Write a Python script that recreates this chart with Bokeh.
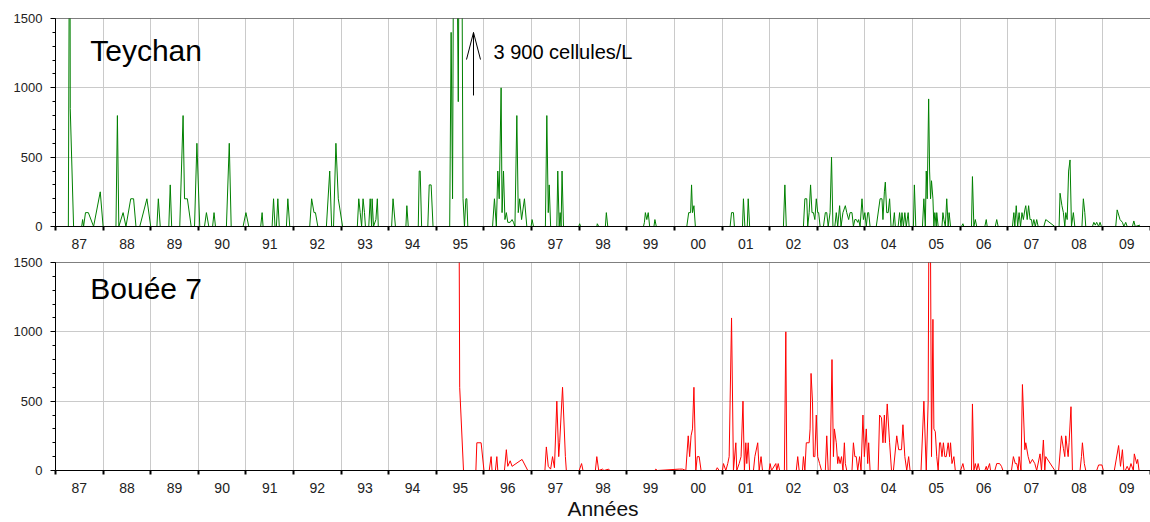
from bokeh.plotting import figure
from bokeh.layouts import column
from bokeh.models import FixedTicker, Span, Label, Range1d, ColumnDataSource
from bokeh.embed import file_html
from bokeh.resources import INLINE

# ---------------- data ----------------
year_starts = list(range(1987, 2011))
year_labels = ["87", "88", "89", "90", "91", "92", "93", "94", "95", "96", "97", "98",
               "99", "00", "01", "02", "03", "04", "05", "06", "07", "08", "09"]
y_major = [0, 500, 1000, 1500]
y_minor = list(range(0, 1501, 100))

teychan_year = [
    1987.00, 1987.27, 1987.30, 1987.31, 1987.38, 1987.55, 1987.57, 1987.59, 1987.63, 1987.69, 1987.80, 1987.94,
    1988.00, 1988.27, 1988.30, 1988.33, 1988.42, 1988.48, 1988.58, 1988.64, 1988.69, 1988.77, 1988.92,
    1989.00, 1989.13, 1989.16, 1989.20, 1989.38, 1989.41, 1989.44, 1989.61, 1989.68, 1989.71, 1989.77, 1989.85, 1989.92, 1989.97,
    1990.03, 1990.13, 1990.17, 1990.22, 1990.30, 1990.33, 1990.36, 1990.59, 1990.65, 1990.69, 1990.94,
    1991.00, 1991.06, 1991.31, 1991.34, 1991.36, 1991.55, 1991.58, 1991.61, 1991.64, 1991.67, 1991.70, 1991.85, 1991.88, 1991.92,
    1992.34, 1992.38, 1992.43, 1992.46, 1992.51, 1992.69, 1992.76, 1992.80, 1992.84, 1992.89, 1992.94,
    1993.03, 1993.34, 1993.37, 1993.40, 1993.43, 1993.46, 1993.49, 1993.51, 1993.58, 1993.61, 1993.64, 1993.65, 1993.68, 1993.73, 1993.76, 1993.78,
    1994.06, 1994.09, 1994.14, 1994.36, 1994.38, 1994.41, 1994.62, 1994.64, 1994.66, 1994.69, 1994.82, 1994.85, 1994.89, 1994.93,
    1995.28, 1995.31, 1995.34, 1995.38, 1995.41, 1995.46, 1995.49, 1995.53, 1995.56, 1995.59, 1995.62, 1995.64, 1995.66,
    1996.18, 1996.22, 1996.26, 1996.29, 1996.32, 1996.36, 1996.38, 1996.41, 1996.44, 1996.47, 1996.50, 1996.55, 1996.59, 1996.62,
    1996.65, 1996.69, 1996.72, 1996.75, 1996.79, 1996.85, 1996.90, 1996.99,
    1997.01, 1997.04, 1997.29, 1997.32, 1997.35, 1997.37, 1997.40, 1997.53, 1997.55, 1997.58, 1997.60, 1997.62, 1997.64, 1997.67, 1997.99,
    1998.01, 1998.03, 1998.37, 1998.38, 1998.41, 1998.55, 1998.57, 1998.60,
    1999.35, 1999.37, 1999.39, 1999.42, 1999.45, 1999.48, 1999.57, 1999.59, 1999.62,
    2000.26, 2000.30, 2000.34, 2000.36, 2000.38, 2000.41, 2000.44,
    2001.17, 2001.20, 2001.24, 2001.26, 2001.43, 2001.45, 2001.48, 2001.53, 2001.55, 2001.58,
    2002.29, 2002.32, 2002.35, 2002.71, 2002.74, 2002.78, 2002.80, 2002.83, 2002.86, 2002.89, 2002.92, 2002.95, 2002.98,
    2003.01, 2003.03, 2003.06, 2003.13, 2003.17, 2003.20, 2003.23, 2003.27, 2003.30, 2003.33, 2003.37, 2003.40, 2003.43, 2003.47,
    2003.50, 2003.54, 2003.59, 2003.62, 2003.66, 2003.69, 2003.73, 2003.76, 2003.79, 2003.82, 2003.85, 2003.87, 2003.90, 2003.94, 2003.97,
    2004.00, 2004.03, 2004.06, 2004.08, 2004.11, 2004.24, 2004.32, 2004.36, 2004.38, 2004.41, 2004.43, 2004.46, 2004.49, 2004.52,
    2004.55, 2004.59, 2004.62, 2004.64, 2004.70, 2004.73, 2004.76, 2004.78, 2004.81, 2004.84, 2004.87, 2004.91, 2004.93,
    2005.02, 2005.04, 2005.07, 2005.21, 2005.24, 2005.27, 2005.29, 2005.31, 2005.34, 2005.36, 2005.38, 2005.40, 2005.43, 2005.45,
    2005.47, 2005.50, 2005.51, 2005.54, 2005.62, 2005.64, 2005.66, 2005.69, 2005.72, 2005.75, 2005.77, 2005.80,
    2006.03, 2006.06, 2006.08, 2006.24, 2006.26, 2006.29, 2006.32, 2006.35, 2006.52, 2006.55, 2006.57, 2006.74, 2006.77, 2006.80,
    2007.10, 2007.13, 2007.15, 2007.18, 2007.21, 2007.24, 2007.27, 2007.30, 2007.33, 2007.36, 2007.38, 2007.41, 2007.44, 2007.47,
    2007.50, 2007.52, 2007.55, 2007.58, 2007.61, 2007.64, 2007.76, 2007.80, 2007.99,
    2008.08, 2008.10, 2008.14, 2008.17, 2008.20, 2008.22, 2008.25, 2008.28, 2008.31, 2008.34, 2008.38, 2008.41, 2008.56, 2008.59,
    2008.62, 2008.64, 2008.78, 2008.81, 2008.84, 2008.87, 2008.91, 2008.94, 2008.97,
    2009.27, 2009.30, 2009.36, 2009.41, 2009.44, 2009.48, 2009.51, 2009.62, 2009.65, 2009.68, 2009.78,
]
teychan_val = [
    0, 0, 3000, 850, 0, 0, 50, 0, 100, 100, 0, 250,
    0, 0, 800, 0, 100, 0, 200, 200, 0, 0, 200,
    0, 0, 200, 0, 0, 300, 0, 0, 800, 200, 200, 0, 0, 600,
    0, 0, 100, 0, 0, 100, 0, 0, 600, 0, 0,
    100, 0, 0, 100, 0, 0, 200, 0, 0, 200, 0, 0, 200, 0,
    0, 200, 100, 100, 0, 0, 400, 0, 0, 600, 200,
    0, 0, 200, 100, 0, 200, 100, 0, 0, 200, 0, 200, 0, 50, 200, 0,
    0, 200, 0, 0, 150, 0, 0, 400, 400, 0, 0, 300, 300, 0,
    0, 1400, 200, 3900, 3000, 900, 3000, 2500, 200, 0, 200, 200, 0,
    0, 200, 0, 400, 200, 1000, 100, 400, 50, 100, 30, 30, 50, 30,
    0, 800, 100, 200, 50, 200, 0, 0,
    50, 0, 0, 800, 100, 300, 0, 0, 400, 0, 100, 0, 400, 0, 0,
    20, 0, 0, 20, 0, 0, 100, 0,
    0, 30, 100, 50, 100, 0, 0, 50, 0,
    0, 100, 100, 300, 100, 150, 0,
    0, 100, 100, 0, 0, 200, 0, 0, 200, 0,
    0, 300, 0, 0, 200, 200, 0, 100, 300, 100, 100, 50, 200,
    100, 100, 0, 0, 100, 100, 0, 100, 500, 0, 0, 100, 0, 150,
    0, 100, 150, 100, 50, 100, 100, 0, 50, 50, 30, 50, 0, 200, 50,
    100, 0, 100, 100, 0, 0, 200, 200, 50, 250, 320, 100, 100, 200,
    0, 0, 100, 0, 0, 100, 0, 100, 0, 100, 0, 100, 0,
    0, 300, 0, 0, 200, 0, 400, 200, 920, 400, 200, 330, 200, 0,
    100, 0, 100, 0, 0, 100, 50, 0, 200, 0, 100, 0,
    0, 20, 0, 0, 360, 0, 50, 0, 0, 50, 0, 0, 50, 0,
    0, 100, 0, 150, 0, 100, 0, 100, 50, 120, 150, 50, 150, 50,
    50, 0, 50, 0, 50, 0, 0, 50, 0,
    0, 240, 150, 100, 0, 100, 50, 400, 480, 0, 100, 0, 0, 200,
    100, 0, 0, 30, 10, 30, 0, 30, 0,
    0, 120, 50, 30, 0, 30, 0, 0, 40, 0, 10,
]

bouee_year = [
    1995.47, 1995.49, 1995.57, 1995.83, 1995.85, 1995.94,
    1996.00, 1996.11, 1996.15, 1996.17, 1996.24, 1996.27, 1996.29, 1996.43, 1996.47, 1996.50, 1996.55, 1996.59, 1996.80, 1996.92,
    1997.28, 1997.31, 1997.35, 1997.40, 1997.44, 1997.48, 1997.53, 1997.57, 1997.59, 1997.65, 1997.71, 1997.73,
    1998.00, 1998.05, 1998.08, 1998.34, 1998.37, 1998.41, 1998.49, 1998.52, 1998.62, 1998.64,
    1999.58, 1999.61, 1999.64,
    2000.10, 2000.17, 2000.24, 2000.29, 2000.32, 2000.35, 2000.38, 2000.41, 2000.45, 2000.48, 2000.52, 2000.56, 2000.87, 2000.90, 2000.94,
    2001.01, 2001.03, 2001.08, 2001.12, 2001.15, 2001.20, 2001.24, 2001.29, 2001.31, 2001.36, 2001.40, 2001.44, 2001.47, 2001.50,
    2001.52, 2001.55, 2001.58, 2001.66, 2001.69, 2001.75, 2001.78, 2001.82, 2001.85, 2001.99,
    2002.01, 2002.04, 2002.13, 2002.15, 2002.18, 2002.21, 2002.31, 2002.34, 2002.36, 2002.56, 2002.59, 2002.62, 2002.69, 2002.71,
    2002.74, 2002.77, 2002.83, 2002.85, 2002.87, 2002.90, 2002.92, 2002.95, 2002.98,
    2003.01, 2003.05, 2003.09, 2003.17, 2003.20, 2003.23, 2003.27, 2003.31, 2003.34, 2003.36, 2003.40, 2003.43, 2003.45, 2003.48,
    2003.51, 2003.54, 2003.57, 2003.59, 2003.62, 2003.73, 2003.76, 2003.79, 2003.82, 2003.85, 2003.89, 2003.92, 2003.96, 2003.99,
    2004.03, 2004.06, 2004.08, 2004.11, 2004.28, 2004.31, 2004.35, 2004.38, 2004.41, 2004.43, 2004.47, 2004.52, 2004.56, 2004.60,
    2004.67, 2004.71, 2004.77, 2004.80, 2004.84, 2004.88, 2004.92, 2004.95,
    2005.18, 2005.24, 2005.29, 2005.33, 2005.36, 2005.40, 2005.43, 2005.45, 2005.48, 2005.51, 2005.54, 2005.57, 2005.59, 2005.62,
    2005.65, 2005.68, 2005.71, 2005.75, 2005.78, 2005.80, 2005.83, 2005.87, 2005.90,
    2006.01, 2006.06, 2006.09, 2006.24, 2006.26, 2006.29, 2006.32, 2006.35, 2006.38, 2006.41, 2006.52, 2006.55, 2006.57, 2006.62,
    2006.64, 2006.73, 2006.77, 2006.83, 2006.87, 2006.90,
    2007.08, 2007.12, 2007.16, 2007.19, 2007.22, 2007.24, 2007.28, 2007.31, 2007.36, 2007.38, 2007.43, 2007.47, 2007.52, 2007.57,
    2007.61, 2007.68, 2007.71, 2007.75, 2007.78, 2007.80, 2007.99,
    2008.07, 2008.13, 2008.17, 2008.20, 2008.22, 2008.27, 2008.29, 2008.33, 2008.36, 2008.52, 2008.55, 2008.57, 2008.61, 2008.64,
    2008.87, 2008.91, 2008.98,
    2009.01, 2009.24, 2009.33, 2009.37, 2009.41, 2009.44, 2009.47, 2009.51, 2009.55, 2009.59, 2009.64, 2009.66, 2009.71, 2009.73, 2009.76,
]
bouee_val = [
    2500, 600, 0, 0, 200, 200,
    0, 0, 100, 0, 0, 100, 0, 0, 150, 30, 70, 30, 80, 0,
    0, 170, 30, 10, 100, 20, 500, 100, 200, 600, 100, 0,
    0, 50, 0, 0, 100, 0, 10, 0, 10, 0,
    0, 10, 0,
    10, 10, 0, 250, 100, 250, 300, 600, 0, 100, 100, 0, 0, 20, 0,
    0, 50, 0, 50, 100, 1100, 0, 200, 0, 50, 100, 500, 0, 200,
    50, 200, 0, 0, 100, 200, 0, 100, 0, 0,
    50, 0, 50, 0, 50, 0, 0, 1000, 0, 0, 100, 0, 0, 100,
    0, 200, 200, 300, 700, 500, 100, 100, 400,
    100, 50, 0, 0, 250, 0, 0, 800, 100, 300, 200, 50, 100, 50,
    100, 0, 200, 50, 0, 0, 200, 100, 100, 0, 100, 0, 400, 100,
    300, 50, 200, 0, 0, 400, 380, 200, 400, 200, 480, 200, 0, 0,
    250, 150, 150, 330, 100, 0, 100, 0,
    0, 500, 0, 500, 3000, 100, 1090, 300, 280, 100, 0, 200, 200, 100,
    200, 100, 100, 200, 100, 200, 50, 100, 0,
    0, 50, 0, 0, 480, 0, 50, 0, 50, 0, 0, 30, 0, 50,
    0, 0, 50, 50, 30, 0,
    0, 100, 50, 50, 0, 100, 0, 620, 150, 200, 100, 50, 80, 50,
    0, 120, 0, 220, 0, 100, 0,
    0, 250, 160, 100, 250, 100, 200, 460, 0, 0, 100, 200, 50, 0,
    0, 40, 40,
    0, 0, 180, 30, 150, 0, 0, 30, 0, 50, 0, 120, 50, 80, 0,
]

x_title = "Années"

FONT = "Liberation Sans"
GRID = "#cacaca"
mid_years = [y + 0.5 for y in year_starts[:-1]]


def make_panel(height, border_top, border_bottom, years, vals, color, title, title_y, with_xlabel):
    p = figure(width=1150, height=height, x_range=Range1d(1987, 2010), y_range=Range1d(0, 1500),
               output_backend="svg", toolbar_location=None,
               min_border_left=55, min_border_right=0,
               min_border_top=border_top, min_border_bottom=border_bottom)
    p.outline_line_color = None
    p.background_fill_color = "white"
    p.border_fill_color = "white"

    # grid
    p.xgrid.ticker = FixedTicker(ticks=year_starts)
    p.xgrid.grid_line_color = GRID
    p.xgrid.grid_line_width = 1
    p.ygrid.ticker = FixedTicker(ticks=y_major)
    p.ygrid.grid_line_color = GRID
    p.ygrid.grid_line_width = 1

    # x axis: labels at mid-year, ticks at year boundaries (minor)
    xa = p.xaxis[0]
    xa.ticker = FixedTicker(ticks=mid_years, minor_ticks=year_starts)
    xa.major_label_overrides = {m: lab for m, lab in zip(mid_years, year_labels)}
    xa.major_tick_line_color = None
    xa.major_tick_out = 4
    xa.major_tick_in = 0
    xa.minor_tick_line_color = "black"
    xa.minor_tick_line_width = 2
    xa.minor_tick_out = 4
    xa.minor_tick_in = 0
    xa.axis_line_color = "black"
    xa.major_label_standoff = 8
    xa.major_label_text_font = FONT
    xa.major_label_text_font_size = "14px"
    xa.major_label_text_color = "#222222"
    if with_xlabel:
        xa.axis_label = x_title
        xa.axis_label_text_font = FONT
        xa.axis_label_text_font_size = "21px"
        xa.axis_label_text_font_style = "normal"
        xa.axis_label_text_color = "#111111"
        xa.axis_label_standoff = 1

    # y axis
    ya = p.yaxis[0]
    ya.ticker = FixedTicker(ticks=y_major, minor_ticks=y_minor)
    ya.major_tick_out = 5
    ya.major_tick_in = 0
    ya.minor_tick_out = 3
    ya.minor_tick_in = 0
    ya.major_tick_line_color = "black"
    ya.minor_tick_line_color = "black"
    ya.axis_line_color = "black"
    ya.major_label_standoff = 8
    ya.major_label_text_font = FONT
    ya.major_label_text_font_size = "13px"
    ya.major_label_text_color = "#222222"

    # top border line
    p.add_layout(Span(location=1500, dimension="width", line_color="black", line_width=1))

    src = ColumnDataSource(dict(x=years, y=vals))
    p.line("x", "y", source=src, line_color=color, line_width=1)

    p.add_layout(Label(x=1987.73, y=title_y, text=title, text_font=FONT, text_font_size="30px",
                       text_color="black", text_baseline="alphabetic"))
    return p


p1 = make_panel(256, 18, 30, teychan_year, teychan_val, "#008000", "Teychan", 1272, False)
p2 = make_panel(266, 6, 52, bouee_year, bouee_val, "#ff0000", "Bouée 7", 1315, True)

# annotation for the clipped peak
arrow_x = 1995.78
arrow_y0, arrow_y1 = 945, 1399
head_dx, head_dy = 0.147, 195
p1.segment(x0=[arrow_x, arrow_x, arrow_x], y0=[arrow_y0, arrow_y1, arrow_y1],
           x1=[arrow_x, arrow_x - head_dx, arrow_x + head_dx], y1=[arrow_y1, arrow_y1 - head_dy, arrow_y1 - head_dy],
           line_color="black", line_width=1)
p1.add_layout(Label(x=1996.20, y=1255, text="3 900 cellules/L", text_font=FONT, text_font_size="20px",
                    text_color="black", text_baseline="alphabetic"))

layout = column(p1, p2, spacing=0)
open("out.html", "w").write(file_html(layout, INLINE))
